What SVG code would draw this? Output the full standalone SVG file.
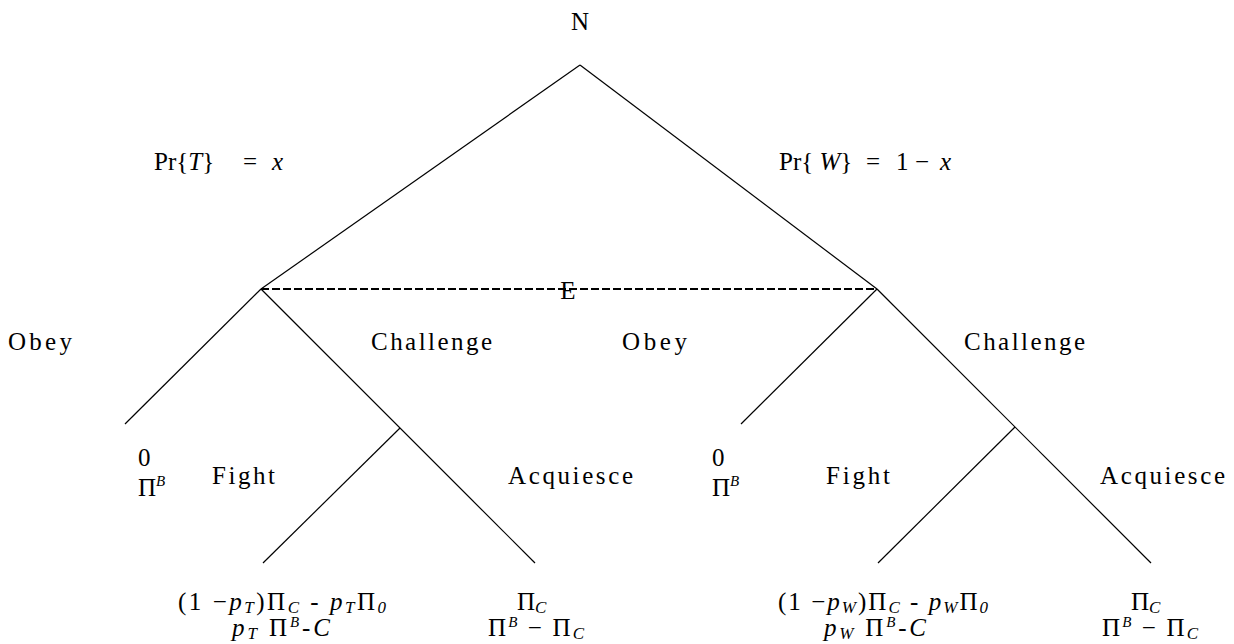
<svg xmlns="http://www.w3.org/2000/svg" width="1234" height="644" viewBox="0 0 1234 644">
<style>
text{font-family:"Liberation Serif","Times New Roman",serif;font-size:25px;fill:#000}
.i{font-style:italic}
.s{font-style:italic;font-size:17px}
.e{font-size:15px;font-style:italic}
.f{font-size:25px}
.ln{stroke:#000;stroke-width:1.2;fill:none}
.dash{stroke:#000;stroke-width:2.2;stroke-dasharray:8 3;fill:none}
</style>
<rect width="1234" height="644" fill="#fff"/>
<g id="connectors">
<line class="ln" x1="580" y1="65" x2="261" y2="289"/>
<line class="ln" x1="580" y1="65" x2="877" y2="289"/>
<line class="ln" x1="261" y1="289" x2="125" y2="424"/>
<line class="ln" x1="261" y1="289" x2="535" y2="563"/>
<line class="ln" x1="400" y1="428" x2="263" y2="563"/>
<line class="ln" x1="877" y1="289" x2="741" y2="424"/>
<line class="ln" x1="877" y1="289" x2="1151" y2="563"/>
<line class="ln" x1="1015" y1="427" x2="878" y2="563"/>
<line class="dash" x1="261" y1="289" x2="877" y2="289"/>
</g>
<g id="node-N"><text x="580" y="30" text-anchor="middle">N</text></g>
<g id="label-T"><text x="154" y="170" font-size="26">Pr{<tspan class="i">T</tspan>}<tspan x="243">=</tspan><tspan class="i" x="272">x</tspan></text></g>
<g id="label-W"><text x="779" y="170" font-size="26">Pr{ <tspan class="i">W</tspan>}<tspan x="866">=</tspan><tspan x="896">1</tspan><tspan x="915">−</tspan><tspan class="i" x="940">x</tspan></text></g>
<g id="node-E"><text x="568" y="299" text-anchor="middle">E</text></g>
<g id="node-left-entrant">
<text x="8" y="350" textLength="64" lengthAdjust="spacing">Obey</text>
<text x="371" y="350" textLength="121" lengthAdjust="spacing">Challenge</text>
</g>
<g id="node-right-entrant">
<text x="622" y="350" textLength="65" lengthAdjust="spacing">Obey</text>
<text x="964" y="350" textLength="121" lengthAdjust="spacing">Challenge</text>
</g>
<g id="leaf-left-obey">
<text x="138" y="466">0</text>
<text x="138" y="496">Π<tspan class="e" dy="-10">B</tspan></text>
</g>
<g id="node-left-incumbent">
<text x="212" y="484" textLength="63" lengthAdjust="spacing">Fight</text>
<text x="508" y="484" textLength="125" lengthAdjust="spacing">Acquiesce</text>
</g>
<g id="leaf-left-fight">
<text class="f" x="178" y="610" textLength="208" lengthAdjust="spacing">(1 −<tspan class="i">p</tspan><tspan class="s" dy="3">T</tspan><tspan dy="-3">)Π</tspan><tspan class="s" dy="3">C</tspan><tspan dy="-3"> - </tspan><tspan class="i">p</tspan><tspan class="s" dy="3">T</tspan><tspan dy="-3">Π</tspan><tspan class="s" dy="3">0</tspan></text>
<text class="f" x="232" y="636" textLength="98" lengthAdjust="spacing"><tspan class="i">p</tspan><tspan class="s" dy="3">T</tspan><tspan dy="-3"> Π</tspan><tspan class="e" dy="-9">B</tspan><tspan dy="9">-</tspan><tspan class="i">C</tspan></text>
</g>
<g id="leaf-left-acquiesce">
<text class="f" x="517" y="610">Π<tspan class="s" dy="3">C</tspan></text>
<text class="f" x="488" y="636" textLength="96" lengthAdjust="spacing">Π<tspan class="e" dy="-9">B</tspan><tspan dy="9"> − Π</tspan><tspan class="s" dy="3">C</tspan></text>
</g>
<g id="leaf-right-obey">
<text x="712" y="466">0</text>
<text x="712" y="496">Π<tspan class="e" dy="-10">B</tspan></text>
</g>
<g id="node-right-incumbent">
<text x="826" y="484" textLength="64" lengthAdjust="spacing">Fight</text>
<text x="1100" y="484" textLength="125" lengthAdjust="spacing">Acquiesce</text>
</g>
<g id="leaf-right-fight">
<text class="f" x="778" y="610" textLength="210" lengthAdjust="spacing">(1 −<tspan class="i">p</tspan><tspan class="s" dy="3">W</tspan><tspan dy="-3">)Π</tspan><tspan class="s" dy="3">C</tspan><tspan dy="-3"> - </tspan><tspan class="i">p</tspan><tspan class="s" dy="3">W</tspan><tspan dy="-3">Π</tspan><tspan class="s" dy="3">0</tspan></text>
<text class="f" x="824" y="636" textLength="102" lengthAdjust="spacing"><tspan class="i">p</tspan><tspan class="s" dy="3">W</tspan><tspan dy="-3"> Π</tspan><tspan class="e" dy="-9">B</tspan><tspan dy="9">-</tspan><tspan class="i">C</tspan></text>
</g>
<g id="leaf-right-acquiesce">
<text class="f" x="1131" y="610">Π<tspan class="s" dy="3">C</tspan></text>
<text class="f" x="1102" y="636" textLength="96" lengthAdjust="spacing">Π<tspan class="e" dy="-9">B</tspan><tspan dy="9"> − Π</tspan><tspan class="s" dy="3">C</tspan></text>
</g>
</svg>
